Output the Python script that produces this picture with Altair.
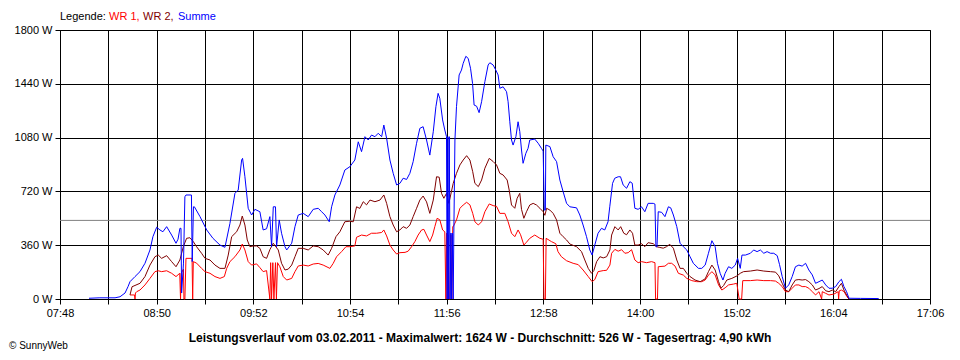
import altair as alt
import pandas as pd

# time = minutes since midnight, value = W
WR1 = [(512.9, 27), (515.8, 27), (516.1, 0), (516.4, 40), (517.2, 49), (519.3, 60), (522.5, 94), (525.7, 138),
       (528.9, 183), (531.0, 189), (533.2, 183), (536.4, 189), (539.6, 172), (542.4, 150), (544.8, 172), (545.3, 0),
       (545.7, 172), (547.2, 200), (547.5, 0), (548.1, 0), (548.8, 272), (552.7, 272), (553.1, 0), (553.5, 250),
       (555.6, 240), (558.8, 205), (561.0, 183), (564.2, 172), (567.4, 150), (570.6, 138), (573.4, 150), (574.9, 205),
       (577.0, 250), (580.2, 283), (583.4, 328), (584.9, 368), (586.6, 328), (588.7, 250), (590.9, 227), (594.1, 235),
       (596.2, 210), (598.3, 183), (600.5, 190), (602.6, 0), (603.1, 243), (603.7, 0), (604.5, 243), (605.2, 0),
       (606.2, 243), (606.8, 0), (607.5, 243), (609.0, 216), (611.2, 150), (613.4, 127), (616.6, 138), (618.7, 183),
       (620.8, 221), (624.0, 227), (627.2, 221), (630.4, 234), (633.6, 238), (636.8, 227), (641.1, 205), (643.2, 238),
       (645.4, 283), (648.6, 317), (651.4, 350), (653.9, 350), (657.1, 355), (658.2, 413), (661.4, 428), (664.6, 422),
       (667.8, 440), (671.0, 440), (674.3, 445), (675.7, 462), (677.5, 422), (679.6, 361), (681.7, 328), (683.9, 301),
       (686.0, 310), (689.3, 312), (691.3, 320), (693.5, 350), (695.6, 384), (697.7, 428), (699.9, 462), (701.4, 466),
       (703.1, 428), (705.2, 384), (707.0, 428), (708.4, 484), (709.9, 540), (711.6, 530), (713.4, 462), (714.8, 450),
       (715.5, 0), (715.9, 440), (716.4, 0), (716.9, 430), (717.4, 0), (718.0, 0), (718.7, 430), (719.3, 0),
       (719.9, 484), (720.2, 484), (722.3, 529), (724.5, 607), (726.6, 629), (728.8, 647), (730.9, 630), (732.7, 573),
       (734.1, 517), (736.3, 495), (738.4, 517), (740.5, 584), (743.3, 636), (745.8, 625), (748.0, 620), (750.1, 573),
       (753.3, 573), (755.4, 517), (757.6, 440), (759.7, 417), (761.8, 462), (763.4, 430), (765.5, 361), (767.2, 380),
       (769.3, 406), (772.5, 428), (775.8, 406), (777.9, 400), (778.4, 0), (779.3, 0), (779.8, 406), (783.2, 384),
       (786.0, 370), (787.4, 317), (789.6, 283), (792.9, 256), (797.1, 239), (800.4, 230), (803.5, 194), (806.8, 150),
       (809.3, 116), (811.0, 130), (813.1, 183), (816.4, 190), (818.6, 192), (820.7, 227), (821.8, 306), (823.9, 332),
       (826.0, 320), (828.2, 330), (830.3, 306), (832.4, 310), (834.6, 330), (836.7, 261), (838.8, 243), (841.0, 250),
       (844.2, 243), (847.4, 250), (849.6, 243), (850.0, 0), (851.2, 0), (851.7, 216), (856.0, 220), (858.2, 239),
       (860.3, 239), (862.5, 220), (864.6, 172), (867.8, 160), (870.0, 138), (873.2, 123), (876.4, 116), (879.6, 116),
       (881.8, 127), (884.0, 161), (886.1, 183), (888.2, 161), (890.4, 94), (892.5, 60), (894.6, 75), (896.8, 94),
       (900.0, 100), (902.1, 105), (903.6, 0), (905.2, 0), (905.9, 123), (910.8, 123), (915.1, 127), (919.4, 123),
       (923.7, 123), (926.9, 120), (929.0, 105), (931.2, 83), (933.3, 49), (935.4, 49), (937.6, 72), (939.7, 94),
       (941.9, 94), (944.0, 83), (946.2, 83), (948.3, 72), (950.5, 49), (952.6, 27), (954.8, 49), (956.5, 0),
       (956.9, 49), (959.1, 38), (961.2, 27), (964.4, 33), (967.1, 49), (967.4, 0), (967.8, 55), (969.2, 60),
       (970.9, 49), (972.5, 20), (974.0, 0)]

WR2 = [(512.9, 27), (514.2, 82), (519.3, 105), (522.5, 150), (525.7, 227), (528.9, 283), (531.0, 294), (533.2, 272),
       (536.4, 290), (539.6, 250), (542.4, 216), (544.9, 261), (547.1, 350), (549.2, 406), (551.3, 410), (553.5, 384),
       (555.6, 350), (558.8, 306), (561.0, 272), (564.2, 261), (567.4, 227), (570.6, 205), (573.8, 205), (575.9, 294),
       (578.1, 417), (581.3, 450), (583.4, 495), (584.9, 555), (586.6, 495), (588.1, 395), (589.8, 350), (591.9, 355),
       (594.1, 355), (596.2, 339), (598.3, 283), (600.5, 272), (602.6, 330), (604.8, 373), (608.0, 328), (610.1, 239),
       (612.3, 194), (614.4, 200), (616.6, 227), (618.7, 283), (620.8, 339), (624.0, 339), (627.2, 328), (630.4, 355),
       (633.6, 350), (636.8, 328), (640.0, 294), (642.2, 339), (645.0, 417), (647.5, 450), (650.7, 517), (653.5, 520),
       (656.1, 517), (658.2, 617), (660.3, 606), (662.5, 651), (664.6, 630), (666.8, 662), (670.0, 651), (673.2, 662),
       (675.7, 696), (677.5, 640), (679.6, 551), (681.7, 495), (683.9, 450), (686.0, 462), (688.1, 484), (690.3, 473),
       (692.4, 495), (694.5, 551), (696.7, 607), (698.8, 662), (700.9, 689), (703.1, 650), (705.2, 573), (707.4, 662),
       (709.5, 818), (711.2, 815), (712.7, 707), (714.2, 674), (715.9, 707), (717.4, 640), (720.2, 774), (722.3, 841),
       (724.5, 897), (726.6, 930), (728.8, 959), (730.9, 930), (732.7, 852), (734.1, 774), (736.3, 752), (738.4, 796),
       (740.5, 875), (743.3, 941), (745.8, 920), (748.0, 897), (750.1, 841), (752.2, 830), (754.8, 796), (756.1, 729),
       (757.6, 629), (759.7, 607), (761.2, 674), (762.9, 707), (764.0, 600), (765.5, 540), (767.2, 584), (769.3, 629),
       (771.5, 640), (773.6, 629), (775.8, 607), (777.9, 584), (779.0, 560), (780.1, 607), (782.2, 595), (784.3, 573),
       (786.5, 529), (788.6, 440), (790.7, 417), (792.9, 395), (795.0, 368), (799.3, 350), (802.5, 317), (804.6, 261),
       (806.8, 205), (808.9, 172), (810.4, 190), (812.2, 250), (814.3, 283), (816.4, 275), (818.6, 283), (820.7, 328),
       (821.8, 428), (823.9, 484), (826.0, 462), (827.6, 484), (829.6, 440), (831.4, 430), (833.5, 462), (835.2, 440),
       (836.7, 361), (838.8, 361), (841.0, 370), (843.1, 350), (845.2, 377), (848.5, 370), (850.6, 350), (852.7, 345),
       (854.9, 340), (857.0, 350), (859.1, 366), (861.4, 340), (863.6, 261), (865.7, 205), (867.8, 205), (870.0, 172),
       (872.1, 150), (875.3, 127), (878.6, 116), (881.8, 135), (883.9, 183), (886.1, 227), (888.2, 194), (890.4, 116),
       (891.9, 72), (893.6, 90), (895.7, 127), (898.9, 138), (902.1, 154), (904.3, 172), (906.4, 183), (910.8, 187),
       (915.1, 194), (919.4, 187), (923.7, 183), (926.9, 180), (929.0, 155), (931.2, 105), (933.3, 60), (935.4, 49),
       (937.6, 94), (939.7, 127), (941.9, 130), (944.0, 127), (946.2, 130), (948.3, 116), (950.5, 94), (952.6, 60),
       (954.8, 70), (956.9, 83), (959.1, 55), (961.2, 49), (963.3, 60), (965.5, 49), (967.6, 83), (969.2, 105),
       (970.8, 60), (972.5, 27), (974.0, 0)]

SUMME = [(486.6, 5), (493.6, 8), (503.3, 8), (506.5, 15), (509.7, 40), (511.6, 82), (512.9, 116), (516.1, 150),
         (519.3, 183), (522.5, 239), (525.7, 328), (527.6, 417), (530.0, 480), (532.1, 462), (534.0, 450), (536.4, 484),
         (539.6, 428), (542.4, 373), (543.7, 400), (544.9, 473), (545.6, 473), (546.0, 40), (547.2, 240), (548.1, 684),
         (548.8, 696), (552.3, 696), (552.8, 250), (553.6, 617), (554.2, 617), (557.8, 551), (562.1, 462), (566.1, 406),
         (570.6, 361), (573.8, 346), (577.0, 506), (580.2, 707), (582.3, 729), (584.5, 930), (585.1, 941), (586.6, 818),
         (588.7, 607), (590.9, 562), (593.0, 600), (596.2, 584), (598.3, 462), (600.5, 470), (602.6, 551), (603.7, 350),
         (604.8, 617), (606.2, 617), (606.9, 350), (608.6, 529), (610.1, 440), (612.3, 350), (613.4, 328), (616.6, 373),
         (618.7, 484), (620.8, 562), (624.0, 573), (627.2, 551), (630.4, 600), (633.6, 607), (635.8, 584), (637.9, 562),
         (640.7, 517), (642.2, 617), (644.3, 696), (647.5, 763), (650.7, 863), (653.9, 885), (657.1, 930), (659.3, 1052),
         (661.4, 986), (663.6, 1086), (665.7, 1064), (667.8, 1097), (670.0, 1086), (672.1, 1109), (674.3, 1086),
         (675.7, 1164), (677.5, 1075), (679.6, 930), (681.7, 841), (683.9, 763), (686.0, 774), (688.1, 808), (690.3, 800),
         (692.4, 841), (694.5, 919), (696.7, 1042), (698.8, 1142), (700.9, 1153), (703.1, 1064), (705.2, 963),
         (707.4, 1119), (709.1, 1287), (710.5, 1376), (711.6, 1343), (713.4, 1198), (714.8, 1131), (715.9, 1086),
         (716.3, 0), (716.8, 1086), (717.2, 0), (717.7, 1086), (718.2, 0), (718.7, 441), (719.1, 0), (719.6, 441),
         (720.2, 0), (720.6, 441), (721.3, 1064), (722.3, 1287), (724.0, 1499), (725.5, 1532), (726.6, 1577),
         (728.3, 1624), (729.8, 1610), (731.3, 1544), (732.6, 1443), (733.6, 1298), (735.2, 1290), (736.8, 1247),
         (738.4, 1320), (740.5, 1454), (742.6, 1566), (743.7, 1581), (745.8, 1566), (747.5, 1532), (749.0, 1499),
         (750.1, 1410), (752.2, 1420), (754.4, 1387), (755.4, 1320), (756.5, 1186), (757.6, 1064), (758.6, 1030),
         (760.4, 1086), (761.8, 1186), (762.9, 1120), (764.0, 997), (765.0, 908), (766.8, 975), (768.2, 1008),
         (769.3, 1064), (772.5, 1070), (774.7, 1042), (776.8, 1008), (777.9, 990), (778.6, 595), (779.3, 595),
         (779.6, 1030), (782.2, 1020), (784.3, 952), (786.5, 919), (788.6, 796), (790.7, 718), (792.9, 640), (795.0, 617),
         (799.3, 610), (801.4, 562), (803.5, 495), (805.7, 417), (807.8, 328), (809.3, 294), (811.0, 361), (813.1, 440),
         (815.3, 473), (817.4, 462), (819.5, 517), (820.6, 617), (822.4, 774), (823.8, 808), (826.0, 818), (827.5, 818),
         (829.2, 763), (831.4, 741), (833.5, 785), (835.0, 775), (836.7, 607), (838.8, 600), (841.0, 617), (843.1, 584),
         (845.2, 640), (848.5, 640), (849.6, 635), (850.2, 350), (850.9, 350), (851.7, 584), (853.9, 580), (856.0, 551),
         (858.2, 617), (859.7, 610), (861.4, 562), (863.6, 484), (865.7, 373), (867.8, 350), (870.0, 328), (872.1, 283),
         (874.2, 239), (877.5, 205), (879.6, 205), (881.8, 227), (883.9, 306), (886.1, 390), (888.2, 350), (889.7, 239),
         (891.4, 172), (893.2, 127), (894.6, 172), (896.8, 216), (898.9, 205), (901.1, 227), (902.6, 272), (904.3, 205),
         (905.4, 294), (907.6, 294), (910.8, 306), (912.9, 328), (915.1, 317), (917.2, 328), (919.4, 306), (921.5, 317),
         (923.7, 306), (925.8, 306), (928.0, 290), (929.5, 230), (931.2, 150), (933.3, 72), (935.4, 94), (937.6, 150),
         (939.7, 216), (941.9, 227), (944.0, 220), (946.2, 239), (948.3, 194), (950.5, 161), (952.6, 105), (954.8, 116),
         (956.9, 127), (959.1, 94), (961.2, 72), (963.3, 72), (965.5, 83), (967.6, 116), (969.2, 132), (970.8, 83),
         (972.5, 49), (974.0, 5), (981.5, 4), (993.1, 3)]

SERIES = ["WR 1", "WR 2", "Summe"]
COLORS = ["#ff0000", "#800000", "#0000ff"]
AVERAGE = 526

X_LABELS = ["07:48", "08:50", "09:52", "10:54", "11:56", "12:58", "14:00", "15:02", "16:04", "17:06"]
Y_TICKS = [0, 360, 720, 1080, 1440, 1800]

TITLE = "Leistungsverlauf vom 03.02.2011 - Maximalwert: 1624 W - Durchschnitt: 526 W - Tagesertrag: 4,90 kWh"

rows = []
for name, pts in zip(SERIES, [WR1, WR2, SUMME]):
    for i, (t, v) in enumerate(pts):
        rows.append({"series": name, "t": t, "w": v, "order": i})
df = pd.DataFrame(rows)


def to_min(s):
    h, m = s.split(":")
    return int(h) * 60 + int(m)


x_lab_vals = [to_min(s) for s in X_LABELS]
x0, x1 = x_lab_vals[0], x_lab_vals[-1]
half = (x_lab_vals[1] - x_lab_vals[0]) // 2
x_tick_vals = list(range(x0, x1 + 1, half))
label_expr = ""
for v, s in zip(x_lab_vals, X_LABELS):
    label_expr += f"datum.value=={v}?'{s}':"
label_expr += "''"

FONT = "Liberation Sans"
W, H = 870, 269

xscale = alt.Scale(domain=[x0, x1], nice=False, zero=False)
yscale = alt.Scale(domain=[0, 1800], nice=False)

base = alt.Chart(df)

lines = base.mark_line(strokeWidth=1, interpolate="linear").encode(
    x=alt.X("t:Q", scale=xscale, title=None,
            axis=alt.Axis(values=x_tick_vals, labelExpr=label_expr, grid=True,
                          gridColor="black", gridOpacity=1, tickColor="black", tickSize=5,
                          domainColor="black", labelFont=FONT, labelFontSize=11, labelColor="black",
                          labelPadding=3, labelFlush=False, labelOverlap=False)),
    y=alt.Y("w:Q", scale=yscale, title=None,
            axis=alt.Axis(values=Y_TICKS, labelExpr="datum.value + ' W'", grid=True,
                          gridColor="black", gridOpacity=1, tickColor="black", tickSize=5,
                          domainColor="black", labelFont=FONT, labelFontSize=11, labelColor="black",
                          labelPadding=3, labelFlush=False, labelOverlap=False)),
    color=alt.Color("series:N", scale=alt.Scale(domain=SERIES, range=COLORS), legend=None),
    detail="series:N",
    order="order:Q",
)

avg = alt.Chart(pd.DataFrame({"avg": [AVERAGE]})).mark_rule(color="#808080", strokeWidth=1).encode(
    y=alt.Y("avg:Q", scale=yscale)
)

one = pd.DataFrame({"a": [0]})
legend_parts = [("Legende:", "black", 0), ("WR 1,", COLORS[0], 49), ("WR 2,", COLORS[1], 83), ("Summe", COLORS[2], 118)]
texts = []
for txt, col, dx in legend_parts:
    texts.append(alt.Chart(one).mark_text(text=txt, color=col, font=FONT, fontSize=11, align="left",
                                          baseline="middle").encode(x=alt.value(dx), y=alt.value(-13)))

texts.append(alt.Chart(one).mark_text(text=TITLE, color="black", font=FONT, fontSize=12, fontWeight="bold",
                                      align="center", baseline="middle").encode(x=alt.value(420), y=alt.value(308)))
texts.append(alt.Chart(one).mark_text(text="© SunnyWeb", color="black", font=FONT, fontSize=10, align="left",
                                      baseline="bottom").encode(x=alt.value(-51), y=alt.value(321)))

chart = alt.layer(avg, lines, *texts).properties(
    width=W, height=H,
    autosize=alt.AutoSizeParams(type="none"),
    padding={"left": 52, "top": 22, "right": 22, "bottom": 52},
    background="white",
).configure_view(stroke="black", strokeWidth=1)

chart.save("out.html", embed_options={"renderer": "svg", "actions": False})
